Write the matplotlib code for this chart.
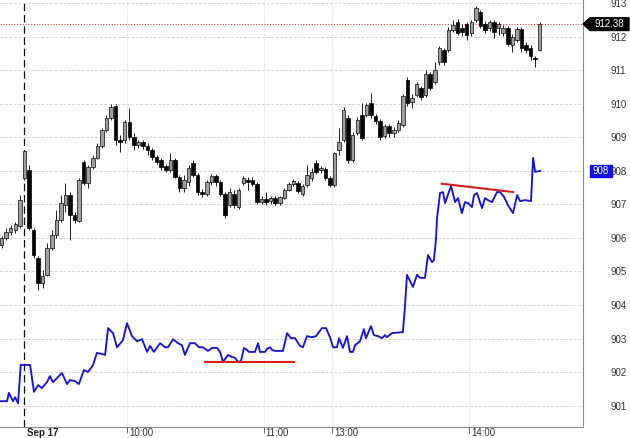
import matplotlib
matplotlib.use("Agg")
import matplotlib.pyplot as plt
import numpy as np
from matplotlib.patches import Polygon, Rectangle
from matplotlib.transforms import blended_transform_factory

plt.rcParams['font.family'] = ['Liberation Sans', 'DejaVu Sans']

# ---- data (x in trading minutes from 09:15 on Sep 17; negative = prior session) ----
bar_start = -10
bar_step = 2

opens = [905.79, 906.00, 906.18, 906.24, 906.36, 907.79, 908.03, 906.24, 905.40, 904.66,
         904.90, 905.70, 906.09, 906.54, 906.98, 907.28, 906.69, 906.51, 908.27, 907.64,
         908.12, 908.39, 908.75, 909.22, 909.58, 909.94, 908.92, 908.92, 909.46, 909.01,
         908.78, 908.87, 908.75, 908.63, 908.42, 908.33, 908.15, 908.03, 908.33, 907.82,
         907.49, 907.67, 908.24, 907.88, 907.37, 907.31, 907.67, 907.85, 907.67, 907.31,
         906.98, 907.31, 906.92, 907.64, 907.73, 907.73, 907.61, 907.07, 907.16, 907.10,
         907.19, 907.04, 907.19, 907.43, 907.61, 907.64, 907.31, 907.58, 907.79, 908.24,
         908.03, 908.06, 907.79, 907.58, 908.63, 908.92, 909.58, 908.33, 909.13, 909.67,
         909.67, 910.03, 909.64, 909.49, 909.04, 909.34, 909.13, 909.22, 909.37, 910.72,
         910.06, 910.27, 910.48, 910.27, 910.90, 910.66, 911.25, 911.61, 911.61, 912.21,
         912.45, 912.27, 912.39, 912.12, 912.51, 912.75, 912.39, 912.27, 912.45, 912.27,
         912.12, 912.27, 911.76, 911.91, 912.24, 911.76, 911.67, 911.37, 911.61]

highs = [906.06, 906.30, 906.39, 906.48, 907.28, 908.63, 908.18, 906.30, 905.46, 905.04,
         905.85, 906.24, 906.84, 907.28, 907.64, 907.37, 906.78, 907.79, 908.33, 908.18,
         908.48, 908.84, 909.28, 909.67, 910.00, 910.00, 909.07, 909.52, 909.88, 909.13,
         908.92, 908.92, 908.84, 908.69, 908.48, 908.39, 908.21, 908.54, 908.39, 907.88,
         907.88, 908.18, 908.33, 907.94, 907.46, 907.73, 907.91, 907.91, 907.73, 907.37,
         907.49, 907.43, 907.49, 907.85, 907.82, 907.82, 907.67, 907.25, 907.37, 907.25,
         907.25, 907.25, 907.49, 907.67, 907.76, 907.70, 907.61, 908.18, 908.09, 908.33,
         908.15, 908.12, 907.85, 908.57, 909.28, 909.91, 909.67, 909.16, 909.61, 910.03,
         910.03, 910.33, 909.70, 909.55, 909.40, 909.40, 909.31, 909.52, 910.30, 910.81,
         910.30, 910.66, 910.54, 911.01, 910.95, 911.25, 911.73, 911.67, 912.30, 912.51,
         912.54, 912.39, 912.45, 912.51, 912.93, 912.81, 912.48, 912.51, 912.51, 912.45,
         912.36, 912.33, 912.09, 912.30, 912.30, 911.85, 911.76, 911.43, 912.45]

lows = [905.70, 905.94, 906.09, 906.15, 906.30, 907.73, 906.24, 905.40, 904.45, 904.51,
        904.87, 905.64, 906.00, 906.48, 906.78, 905.94, 906.45, 906.48, 907.58, 907.49,
        908.06, 908.36, 908.69, 909.16, 909.52, 908.78, 908.57, 908.84, 908.92, 908.63,
        908.69, 908.66, 908.48, 908.33, 908.21, 908.03, 907.97, 907.97, 907.79, 907.37,
        907.37, 907.55, 907.82, 907.28, 907.22, 907.25, 907.58, 907.55, 907.25, 906.60,
        906.92, 906.90, 906.87, 907.58, 907.43, 907.55, 907.01, 907.01, 906.98, 907.01,
        906.98, 906.98, 907.16, 907.40, 907.55, 907.34, 907.25, 907.52, 907.70, 907.91,
        907.94, 907.73, 907.52, 907.52, 908.48, 908.87, 908.24, 908.27, 909.07, 908.92,
        909.61, 909.58, 909.40, 908.92, 908.98, 909.01, 909.01, 909.16, 909.31, 909.94,
        909.88, 910.21, 910.12, 910.21, 910.42, 910.60, 911.16, 911.16, 911.55, 912.15,
        912.06, 912.03, 911.91, 912.03, 912.45, 912.27, 912.12, 912.18, 911.97, 912.06,
        912.03, 911.73, 911.55, 911.85, 911.55, 911.52, 911.31, 911.10, 911.58]

closes = [906.00, 906.18, 906.30, 906.42, 907.13, 908.60, 906.30, 905.49, 904.66, 904.87,
          905.70, 906.09, 906.54, 907.04, 907.28, 906.69, 906.54, 907.73, 907.64, 908.12,
          908.39, 908.75, 909.22, 909.58, 909.91, 908.92, 908.87, 909.46, 909.01, 908.78,
          908.87, 908.75, 908.63, 908.42, 908.27, 908.12, 908.03, 908.33, 907.82, 907.49,
          907.73, 908.09, 907.88, 907.37, 907.31, 907.67, 907.85, 907.67, 907.31, 906.69,
          907.37, 906.98, 907.43, 907.79, 907.67, 907.61, 907.07, 907.16, 907.07, 907.19,
          907.04, 907.22, 907.43, 907.61, 907.70, 907.40, 907.55, 907.88, 907.97, 907.97,
          908.09, 907.79, 907.58, 908.54, 908.87, 909.82, 908.33, 909.07, 909.52, 908.98,
          909.97, 909.67, 909.49, 909.01, 909.34, 909.13, 909.22, 909.43, 910.24, 910.03,
          910.18, 910.60, 910.21, 910.90, 910.48, 911.01, 911.67, 911.25, 912.21, 912.36,
          912.12, 912.15, 912.06, 912.45, 912.87, 912.33, 912.21, 912.45, 912.15, 912.39,
          912.27, 911.79, 912.00, 912.24, 911.67, 911.61, 911.43, 911.34, 912.38]

blue_t = [-10.7, -7.6, -6.8, -5.0, -4.1, -2.8, -1.6, 2.5, 4.2, 6.0,
          7.7, 9.9, 11.2, 12.5, 14.3, 16.5, 18.7, 20.0, 22.2, 23.9,
          26.1, 27.9, 30.1, 31.8, 34.0, 35.4, 36.7, 38.9, 40.6, 41.9,
          43.2, 45.0, 47.2, 49.4, 51.6, 53.8, 55.1, 56.8, 59.5, 61.7,
          63.0, 65.2, 67.4, 69.1, 70.4, 72.6, 74.8, 76.6, 78.3, 80.5,
          82.3, 84.5, 85.8, 87.1, 89.3, 91.1, 92.4, 93.7, 95.0, 96.3,
          97.6, 98.5, 101.1, 102.5, 103.3, 105.5, 106.4, 107.7, 108.6, 109.9,
          113.4, 115.2, 116.9, 118.7, 120.9, 122.2, 123.9, 126.1, 127.9, 130.5,
          132.3, 134.0, 135.4, 137.1, 138.0, 139.7, 141.5, 142.8, 144.1, 145.0,
          147.2, 148.9, 149.8, 152.0, 153.3, 155.1, 156.8, 158.2, 159.0, 161.2,
          166.0, 166.9, 167.8, 170.4, 172.2, 173.5, 175.7, 177.0, 178.8, 179.6,
          180.5, 181.0, 181.4, 182.3, 183.6, 184.5, 187.1, 188.9, 190.2, 191.9,
          193.2, 194.6, 196.3, 197.2, 198.5, 200.7, 202.0, 203.3, 205.1, 207.3,
          208.6, 210.4, 212.1, 214.3, 216.1, 217.4, 219.6, 222.2, 223.1, 224.0,
          226.2]

blue_v = [901.13, 901.13, 901.38, 901.13, 901.25, 901.07, 902.21, 902.21, 901.41, 901.61,
          901.52, 901.70, 901.88, 901.70, 901.82, 901.97, 901.64, 901.76, 901.73, 901.64,
          902.06, 902.00, 902.21, 902.57, 902.54, 902.51, 903.31, 903.16, 902.74, 902.84,
          902.95, 903.46, 903.07, 902.92, 902.98, 902.60, 902.78, 902.60, 902.86, 902.74,
          902.74, 902.98, 902.86, 902.80, 902.51, 902.86, 902.86, 902.74, 902.74, 902.63,
          902.72, 902.72, 902.60, 902.30, 902.51, 902.45, 902.42, 902.30, 902.33, 902.72,
          902.66, 902.60, 902.60, 902.86, 902.60, 902.60, 902.69, 902.74, 902.66, 902.63,
          902.63, 903.16, 903.01, 903.01, 902.78, 902.74, 903.07, 903.04, 903.07, 903.31,
          903.31, 903.04, 902.74, 902.74, 903.01, 902.72, 903.07, 902.60, 902.60, 902.80,
          902.92, 903.28, 903.01, 903.37, 903.10, 903.07, 903.01, 903.10, 903.04, 903.16,
          903.19, 903.94, 904.90, 904.54, 904.90, 904.81, 904.81, 905.49, 905.28, 905.34,
          905.94, 906.62, 906.83, 907.34, 907.37, 907.04, 907.55, 907.07, 907.19, 906.74,
          907.07, 907.04, 906.92, 907.28, 907.34, 906.89, 907.19, 907.13, 907.07, 907.37,
          907.37, 907.22, 906.98, 906.74, 907.28, 907.10, 907.13, 907.10, 908.39, 907.97,
          908.00]

trend1_t = [79.2, 118.2]
trend1_v = [902.30, 902.30]
trend2_t = [183.0, 214.4]
trend2_v = [907.62, 907.37]

hour_pos = [45, 105, 135, 195]
hour_labels = ["10:00", "11:00", "13:00", "14:00"]
session_pos = 0
session_label = "Sep 17"
yticks = list(range(901, 914))
last_price = 912.38
last_label = "912.38"
blue_last = 908.0
blue_label = "908"

# ---- figure ----
W, H = 630, 438
fig = plt.figure(figsize=(W / 100, H / 100), dpi=100)
ax = fig.add_axes([0, 11 / H, 583 / W, 427 / H])
ax.set_xlim(-10.7, 245.0)
ax.set_ylim(900.36, 913.10)

O = np.array(opens); Hh = np.array(highs); L = np.array(lows); C = np.array(closes)
x = bar_start + bar_step * np.arange(len(O))

# grid
for yv in yticks:
    ax.axhline(yv, color='#cfcfcf', lw=0.65, ls=(0, (3, 2)), zorder=0)
for hp in hour_pos:
    ax.axvline(hp, color='#c8c8c8', lw=0.6, ls=(0, (1, 1.5)), zorder=0)
ax.axvline(session_pos, color='#111111', lw=0.9, ls=(0, (6, 3)), zorder=1)

# last price dotted line
ax.axhline(last_price, color='#d04545', lw=0.8, ls=(0, (1, 1.5)), zorder=1)

# candles
ax.vlines(x, L, Hh, color='#1a1a1a', lw=0.7, zorder=3)
up = C >= O
dn = ~up
bw = 1.55
ax.bar(x[up], np.maximum(C[up] - O[up], 0.02), bottom=O[up], width=bw,
       color='#9e9e9e', edgecolor='#1a1a1a', linewidth=0.55, zorder=4)
ax.bar(x[dn], np.maximum(O[dn] - C[dn], 0.02), bottom=C[dn], width=bw,
       color='#000000', edgecolor='#000000', linewidth=0.5, zorder=4)

# blue line
ax.plot(blue_t, blue_v, color='#1717c9', lw=1.35, zorder=5)

# red trend lines
ax.plot(trend1_t, trend1_v, color='#d62020', lw=1.5, zorder=6)
ax.plot(trend2_t, trend2_v, color='#d62020', lw=1.5, zorder=6)

# spines
for s in ['top', 'left']:
    ax.spines[s].set_visible(False)
for s in ['right', 'bottom']:
    ax.spines[s].set_color('#8c8c8c')
    ax.spines[s].set_linewidth(0.8)

# y ticks on right
ax.yaxis.tick_right()
ax.set_yticks(yticks)
ax.set_yticklabels([str(v) for v in yticks])
ax.tick_params(axis='y', length=0, pad=20, labelsize=7, labelcolor='#333333')

# x ticks
ax.set_xticks(hour_pos)
ax.set_xticklabels([''] * len(hour_pos))
ax.tick_params(axis='x', length=4, width=0.7, color='#666666', direction='out')
for hp, lab in zip(hour_pos, hour_labels):
    ax.annotate(lab, xy=(hp, 0), xycoords=('data', 'axes fraction'),
                xytext=(2, -6), textcoords='offset pixels',
                ha='left', va='center', fontsize=7, color='#333333',
                annotation_clip=False)
ax.annotate(session_label, xy=(session_pos, 0), xycoords=('data', 'axes fraction'),
            xytext=(3, -6), textcoords='offset pixels',
            ha='left', va='center', fontsize=7, fontweight='bold', color='#222222',
            annotation_clip=False)

# price label boxes
tr = blended_transform_factory(fig.transFigure, ax.transData)
hh = 0.19
poly = Polygon([(583 / W, last_price), (590 / W, last_price + hh), (629 / W, last_price + hh),
                (629 / W, last_price - hh), (590 / W, last_price - hh)],
               closed=True, transform=tr, facecolor='black', edgecolor='black',
               clip_on=False, zorder=10)
ax.add_patch(poly)
ax.text(609.5 / W, last_price, last_label, transform=tr, color='white', fontsize=7,
        ha='center', va='center', zorder=11, clip_on=False)

bh = 0.17
rect = Rectangle((590 / W, blue_last - bh), 22 / W, 2 * bh, transform=tr,
                 facecolor='#1010e0', edgecolor='#1010e0', clip_on=False, zorder=10)
ax.add_patch(rect)
ax.text(601 / W, blue_last, blue_label, transform=tr, color='white', fontsize=7,
        ha='center', va='center', zorder=11, clip_on=False)

fig.savefig('out.png', dpi=100)
